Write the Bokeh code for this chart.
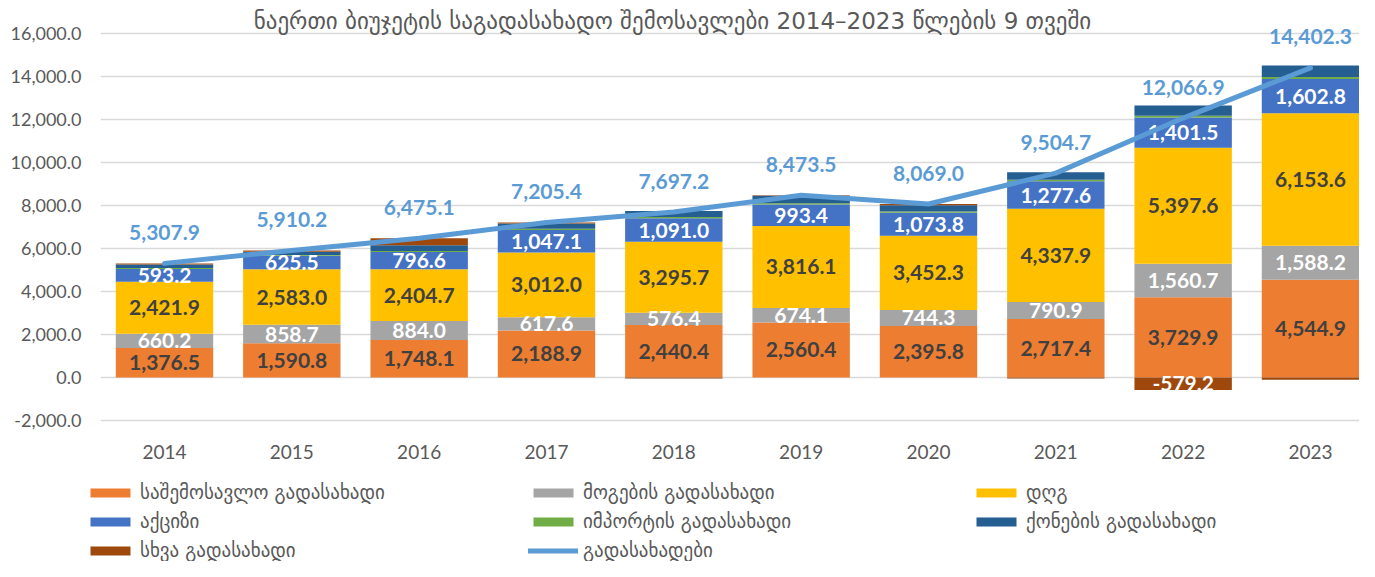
import numpy as np
from bokeh.plotting import figure
from bokeh.layouts import column
from bokeh.models import (Range1d, FixedTicker, NumeralTickFormatter, Legend, LegendItem, Label)
from bokeh.core.properties import value
from bokeh.embed import file_html
from bokeh.resources import INLINE

years = ["2014", "2015", "2016", "2017", "2018", "2019", "2020", "2021", "2022", "2023"]
income_tax = [1376.5, 1590.8, 1748.1, 2188.9, 2440.4, 2560.4, 2395.8, 2717.4, 3729.9, 4544.9]
profit_tax = [660.2, 858.7, 884.0, 617.6, 576.4, 674.1, 744.3, 790.9, 1560.7, 1588.2]
vat = [2421.9, 2583.0, 2404.7, 3012.0, 3295.7, 3816.1, 3452.3, 4337.9, 5397.6, 6153.6]
excise = [593.2, 625.5, 796.6, 1047.1, 1091.0, 993.4, 1073.8, 1277.6, 1401.5, 1602.8]
import_tax = [40.0, 40.0, 50.0, 50.0, 60.0, 60.0, 60.0, 70.0, 80.0, 90.0]
property_tax = [160.0, 150.0, 270.0, 250.0, 283.7, 350.0, 290.0, 352.0, 476.4, 530.0]
other_tax = [56.1, 62.2, 321.7, 39.8, -50.0, 19.5, 52.8, -41.1, -579.2, -107.2]
total_taxes = [5307.9, 5910.2, 6475.1, 7205.4, 7697.2, 8473.5, 8069.0, 9504.7, 12066.9, 14402.3]

series_names = ["საშემოსავლო გადასახადი", "მოგების გადასახადი", "დღგ", "აქციზი",
                "იმპორტის გადასახადი", "ქონების გადასახადი", "სხვა გადასახადი"]
line_name = "გადასახადები"
title_text = "ნაერთი ბიუჯეტის საგადასახადო შემოსავლები 2014–2023 წლების 9 თვეში"
y_ticks = [-2000, 0, 2000, 4000, 6000, 8000, 10000, 12000, 14000, 16000]

colors = ["#ED7D31", "#A5A5A5", "#FFC000", "#4472C4", "#70AD47", "#255E91", "#9E480E"]
label_colors = ["#404040", "#FFFFFF", "#404040", "#FFFFFF", None, None, "#FFFFFF"]
label_min = [0, 0, 0, 0, None, None, 500]
line_color = "#5B9BD5"
grey_text = "#595959"
num_font = "Lato"
geo_font = "DejaVu Sans"

p = figure(width=1359, height=472, output_backend="svg", toolbar_location=None,
           x_range=Range1d(-0.5026, 9.385), y_range=Range1d(-2233, 17535),
           min_border_left=100, min_border_right=0, min_border_top=0, min_border_bottom=47)
p.title = None
p.frame_align = False
p.outline_line_color = None
p.background_fill_color = "white"
p.border_fill_color = "white"

x = np.arange(len(years), dtype=float)
pos_base = np.zeros(len(years))
neg_base = np.zeros(len(years))
all_series = [income_tax, profit_tax, vat, excise, import_tax, property_tax, other_tax]
label_jobs = []
for vals, col, lc, lm in zip(all_series, colors, label_colors, label_min):
    v = np.array(vals, dtype=float)
    bottom = np.where(v >= 0, pos_base, neg_base + v)
    top = np.where(v >= 0, pos_base + v, neg_base)
    pos_base = pos_base + np.clip(v, 0, None)
    neg_base = neg_base + np.clip(v, None, 0)
    p.vbar(x=x, bottom=bottom, top=top, width=0.765, fill_color=col, line_color=None)
    if lc is not None:
        label_jobs.append((v, (bottom + top) / 2, lc, lm))

for v, mid, lc, lm in label_jobs:
    idx = [i for i in range(len(v)) if abs(v[i]) >= lm]
    p.text(x=[x[i] for i in idx], y=[mid[i] for i in idx],
           text=[f"{v[i]:,.1f}" for i in idx],
           text_align="center", text_baseline="middle",
           text_font=value(num_font), text_font_style="bold",
           text_font_size="21px", text_color=lc)

p.line(x=x, y=total_taxes, line_color=line_color, line_width=5,
       line_cap="round", line_join="round")
p.text(x=x, y=total_taxes, text=[f"{t:,.1f}" for t in total_taxes],
       text_align="center", text_baseline="middle", y_offset=-31,
       text_font=value(num_font), text_font_style="bold",
       text_font_size="21px", text_color=line_color)

# title drawn inside the top band of the frame
p.add_layout(Label(x=572, y=405, x_units="screen", y_units="screen", text=title_text,
                   text_align="center", text_baseline="middle", text_font=geo_font,
                   text_font_size="23px", text_color=grey_text))

# axes
p.yaxis.ticker = FixedTicker(ticks=y_ticks)
p.yaxis.formatter = NumeralTickFormatter(format="0,0.0")
p.yaxis.axis_line_color = None
p.yaxis.major_tick_line_color = None
p.yaxis.minor_tick_line_color = None
p.yaxis.major_tick_out = 0
p.yaxis.major_tick_in = 0
p.yaxis.minor_tick_out = 0
p.yaxis.major_label_standoff = 19
p.yaxis.major_label_text_font = num_font
p.yaxis.major_label_text_font_size = "18px"
p.yaxis.major_label_text_color = grey_text

p.xaxis.ticker = FixedTicker(ticks=list(x))
p.xaxis.major_label_overrides = {i: y for i, y in enumerate(years)}
p.xaxis.axis_line_color = None
p.xaxis.major_tick_line_color = None
p.xaxis.minor_tick_line_color = None
p.xaxis.major_tick_out = 0
p.xaxis.major_tick_in = 0
p.xaxis.minor_tick_out = 0
p.xaxis.major_label_standoff = 19
p.xaxis.major_label_text_font = num_font
p.xaxis.major_label_text_font_size = "19px"
p.xaxis.major_label_text_color = grey_text

p.xgrid.grid_line_color = None
p.ygrid.ticker = FixedTicker(ticks=y_ticks)
p.ygrid.grid_line_color = "#D9D9D9"
p.ygrid.grid_line_width = 1.5

# legend figure (separate panel below the chart)
lg = figure(width=1359, height=89, output_backend="svg", toolbar_location=None,
            x_range=Range1d(0, 1), y_range=Range1d(0, 1),
            x_axis_location=None, y_axis_location=None, min_border=0)
lg.frame_align = False
lg.outline_line_color = None
lg.grid.visible = False
nan = float("nan")
items = []
for n, col in zip(series_names, colors):
    r = lg.vbar(x=[nan], top=[nan], width=0.5, fill_color=col, line_color=None)
    items.append(LegendItem(label=n, renderers=[r]))
lr = lg.line(x=[nan, nan], y=[nan, nan], line_color=line_color, line_width=5, line_cap="round")
items.append(LegendItem(label=line_name, renderers=[lr]))
legend = Legend(items=items, ncols=3, orientation="horizontal",
                location=(85, 0), glyph_width=50, glyph_height=11,
                label_width=381, label_height=22, spacing=7, padding=0, margin=0,
                label_standoff=5, border_line_color=None, background_fill_alpha=0,
                label_text_font=geo_font, label_text_font_size="19px",
                label_text_color=grey_text)
lg.add_layout(legend)

layout = column(p, lg, spacing=0)
open("out.html", "w").write(file_html(layout, INLINE))
